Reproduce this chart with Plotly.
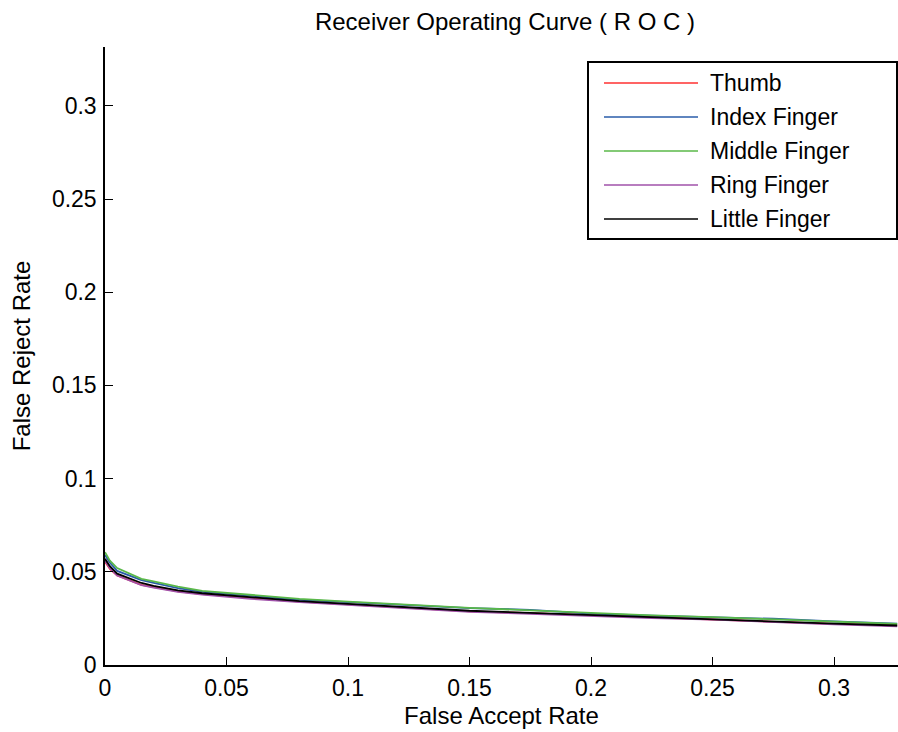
import plotly.graph_objects as go

# ---- data ----
far = [0, 0.002, 0.005, 0.01, 0.015, 0.02, 0.03, 0.04, 0.05, 0.06, 0.08, 0.1,
       0.125, 0.15, 0.175, 0.2, 0.225, 0.25, 0.275, 0.3, 0.326]

thumb = [0.0555, 0.0515, 0.048, 0.0455, 0.043, 0.0418, 0.0395, 0.038, 0.037, 0.0358, 0.034, 0.0325,
         0.0307, 0.0288, 0.0278, 0.0266, 0.0255, 0.0246, 0.0232, 0.0221, 0.0211]
index_f = [0.059, 0.055, 0.0505, 0.048, 0.0455, 0.044, 0.0412, 0.0393, 0.0382, 0.037, 0.035, 0.0337,
           0.0322, 0.0305, 0.0296, 0.0276, 0.0265, 0.0258, 0.0248, 0.0234, 0.0222]
middle = [0.0605, 0.056, 0.052, 0.049, 0.0462, 0.0448, 0.042, 0.0398, 0.0387, 0.0375, 0.0355, 0.034,
          0.0322, 0.0307, 0.0293, 0.0278, 0.0266, 0.0257, 0.0245, 0.0233, 0.022]
ring = [0.056, 0.052, 0.048, 0.0452, 0.0428, 0.0415, 0.0392, 0.0378, 0.0365, 0.0355, 0.0337, 0.0322,
        0.0305, 0.0285, 0.0275, 0.0263, 0.0252, 0.0243, 0.0229, 0.0218, 0.0208]
little = [0.057, 0.053, 0.049, 0.0465, 0.044, 0.0425, 0.040, 0.0385, 0.0375, 0.0362, 0.0343, 0.0328,
          0.031, 0.0291, 0.028, 0.0268, 0.0257, 0.0248, 0.0233, 0.0222, 0.0212]

names = ["Thumb", "Index Finger", "Middle Finger", "Ring Finger", "Little Finger"]
series = [thumb, index_f, middle, ring, little]
colors = ["#ff3030", "#2a5caa", "#5ab849", "#a052aa", "#000000"]

tick_vals = [0, 0.05, 0.1, 0.15, 0.2, 0.25, 0.3]
tick_text = ["0", "0.05", "0.1", "0.15", "0.2", "0.25", "0.3"]

FONT = "Liberation Sans, Arial, sans-serif"
FS = 23

fig = go.Figure()
for nm, ys, c in zip(names, series, colors):
    fig.add_trace(go.Scatter(x=far, y=ys, mode="lines", name=nm,
                             line=dict(color=c, width=1.8), showlegend=False))

# plot area in pixels
L, R, T, B = 105, 898, 47, 665
W, H = 898, 732


def px(xp):
    return (xp - L) / (R - L)


def py(yp):
    return (B - yp) / (B - T)


shapes = []
annotations = []
# legend box
shapes.append(dict(type="rect", xref="paper", yref="paper",
                   x0=px(588), x1=px(897), y0=py(239), y1=py(62),
                   line=dict(color="black", width=2), fillcolor="white", layer="above"))
rows = [83, 117, 151, 185, 219]
for nm, c, r in zip(names, colors, rows):
    shapes.append(dict(type="line", xref="paper", yref="paper",
                       x0=px(604), x1=px(698), y0=py(r), y1=py(r),
                       line=dict(color=c, width=1.5), layer="above"))
    annotations.append(dict(xref="paper", yref="paper", x=px(708), y=py(r),
                            text=nm, showarrow=False, xanchor="left", yanchor="middle",
                            font=dict(family=FONT, size=FS, color="black")))

fig.update_layout(
    width=W, height=H,
    margin=dict(l=L, r=W - R, t=T, b=H - B, pad=0),
    paper_bgcolor="white", plot_bgcolor="white",
    title=dict(text="Receiver Operating Curve ( R O C )", x=505 / W, xanchor="center",
               y=1 - 22 / H, yanchor="middle",
               font=dict(family=FONT, size=24, color="black")),
    font=dict(family=FONT, size=FS, color="black"),
    shapes=shapes, annotations=annotations,
    showlegend=False,
)
fig.update_xaxes(range=[0, (R - L) / 2430], tickvals=tick_vals, ticktext=tick_text,
                 ticks="inside", ticklen=8, tickwidth=1.3, tickcolor="black",
                 showline=True, linecolor="black", linewidth=1.5,
                 showgrid=False, zeroline=False, ticklabelstandoff=2,
                 title=dict(text="False Accept Rate", standoff=7, font=dict(size=24)),
                 tickfont=dict(size=FS))
fig.update_yaxes(range=[0, (B - T) / 1864], tickvals=tick_vals, ticktext=tick_text,
                 ticks="inside", ticklen=8, tickwidth=1.3, tickcolor="black",
                 showline=True, linecolor="black", linewidth=1.5,
                 showgrid=False, zeroline=False, ticklabelstandoff=2,
                 title=dict(text="False Reject Rate", standoff=14, font=dict(size=24)),
                 tickfont=dict(size=FS))

fig.write_html("out.html", config={"displayModeBar": False},
               post_script="document.body.style.margin='0';document.body.style.overflow='hidden';")
